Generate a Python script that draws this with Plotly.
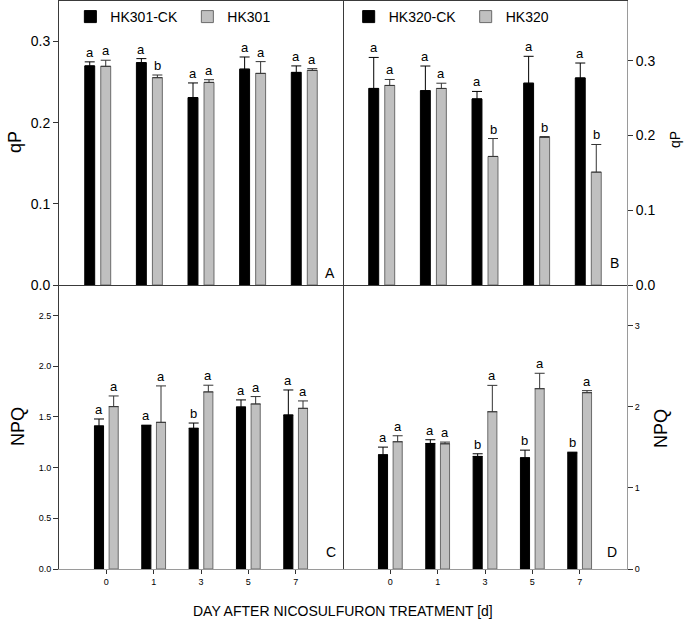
import plotly.graph_objects as go

days = ["0", "1", "3", "5", "7"]

# Panel A: qP, HK301
qpA_ck = [0.270, 0.274, 0.231, 0.266, 0.262]
qpA_ck_err = [0.005, 0.005, 0.018, 0.015, 0.008]
qpA_tr = [0.2695, 0.2555, 0.2497, 0.2608, 0.2645]
qpA_tr_err = [0.0075, 0.0033, 0.0033, 0.0145, 0.0021]
lettA_ck = ["a", "a", "a", "a", "a"]
lettA_tr = ["a", "b", "a", "a", "a"]

# Panel B: qP, HK320
qpB_ck = [0.263, 0.260, 0.249, 0.270, 0.277]
qpB_ck_err = [0.0415, 0.033, 0.010, 0.036, 0.020]
qpB_tr = [0.267, 0.263, 0.172, 0.1976, 0.151]
qpB_tr_err = [0.008, 0.007, 0.024, 0.001, 0.037]
lettB_ck = ["a", "a", "a", "a", "a"]
lettB_tr = ["a", "a", "b", "b", "b"]

# Panel C: NPQ, HK301
npC_ck = [1.41, 1.413, 1.387, 1.597, 1.518]
npC_ck_err = [0.069, 0.005, 0.052, 0.070, 0.247]
npC_tr = [1.601, 1.446, 1.746, 1.627, 1.584]
npC_tr_err = [0.105, 0.359, 0.066, 0.073, 0.073]
lettC_ck = ["a", "a", "b", "a", "a"]
lettC_tr = ["a", "a", "a", "a", "a"]

# Panel D: NPQ, HK320
npD_ck = [1.407, 1.547, 1.387, 1.370, 1.432]
npD_ck_err = [0.095, 0.046, 0.033, 0.095, 0.008]
npD_tr = [1.568, 1.543, 1.938, 2.222, 2.173]
npD_tr_err = [0.074, 0.021, 0.325, 0.190, 0.025]
lettD_ck = ["a", "a", "b", "b", "b"]
lettD_tr = ["a", "a", "a", "a", "a"]

names_A = ["HK301-CK", "HK301"]
names_B = ["HK320-CK", "HK320"]

FONT = "Arial, Liberation Sans, sans-serif"
BLACK = "#000000"
GRAY = "#c0c0c0"
GRAY_EDGE = "#6a6a6a"
DARK_LINE = "#3a3a3a"
LIGHT_LINE = "#9a9a9a"

W, H = 685, 622
ML, MR, MT, MB = 59, 58, 1, 53
BARGAP, BARGROUPGAP = 0.38, 0.38

fig = go.Figure()

panels = [
    ("x", "y", qpA_ck, qpA_ck_err, qpA_tr, qpA_tr_err, lettA_ck, lettA_tr, names_A, "legend", True),
    ("x2", "y2", qpB_ck, qpB_ck_err, qpB_tr, qpB_tr_err, lettB_ck, lettB_tr, names_B, "legend2", True),
    ("x3", "y3", npC_ck, npC_ck_err, npC_tr, npC_tr_err, lettC_ck, lettC_tr, names_A, "legend", False),
    ("x4", "y4", npD_ck, npD_ck_err, npD_tr, npD_tr_err, lettD_ck, lettD_tr, names_B, "legend2", False),
]

top_range = [-0.75, 4.75]
bot_range = [-1.0, 5.0]
plot_w = W - ML - MR
half_w = plot_w / 2.0

annotations = []
for xa, ya, ck, ckerr, tr, trerr, lck, ltr, names, leg, top in panels:
    xr = top_range if top else bot_range
    px_per_unit = half_w / (xr[1] - xr[0])
    slot = (1 - BARGAP) / 2.0
    shift = slot / 2.0 * px_per_unit
    for j, (vals, errs, lets, color, edge, ecol) in enumerate([
        (ck, ckerr, lck, BLACK, BLACK, BLACK),
        (tr, trerr, ltr, GRAY, GRAY_EDGE, "#333333"),
    ]):
        fig.add_trace(go.Bar(
            x=days, y=vals, name=names[j],
            xaxis=xa, yaxis=ya,
            offsetgroup=str(j),
            marker=dict(color=color, line=dict(color=edge, width=1)),
            error_y=dict(type="data", array=errs, arrayminus=[0] * len(errs),
                         symmetric=False, color=ecol, thickness=1, width=5),
            showlegend=top, legend=leg,
        ))
        for i, (v, e, t) in enumerate(zip(vals, errs, lets)):
            annotations.append(dict(
                x=i, y=v + e, xref=xa, yref=ya, text=t, showarrow=False,
                xanchor="center", yanchor="bottom",
                xshift=(-shift if j == 0 else shift), yshift=0,
                font=dict(family=FONT, size=13, color="#000"),
            ))

# panel letters
for xa, ya, lab, xs, ys in [("x", "y", "A", -6, 2), ("x2", "y2", "B", -6, 12),
                            ("x3", "y3", "C", -5, 7), ("x4", "y4", "D", -8, 7)]:
    annotations.append(dict(
        x=1, y=0, xref=xa + " domain", yref=ya + " domain", text=lab,
        showarrow=False, xanchor="right", yanchor="bottom", xshift=xs, yshift=ys,
        font=dict(family=FONT, size=14, color="#000"),
    ))

# axis titles
annotations += [
    dict(x=0, y=0.75, xref="paper", yref="paper", text="qP", textangle=-90,
         xanchor="center", yanchor="middle",
         showarrow=False, xshift=-44, yshift=1, font=dict(family=FONT, size=18, color="#000")),
    dict(x=0, y=0.25, xref="paper", yref="paper", text="NPQ", textangle=-90,
         xanchor="center", yanchor="middle",
         showarrow=False, xshift=-41, font=dict(family=FONT, size=18, color="#000")),
    dict(x=1, y=0.75, xref="paper", yref="paper", text="qP", textangle=-90,
         xanchor="center", yanchor="middle",
         showarrow=False, xshift=48, yshift=3, font=dict(family=FONT, size=14, color="#000")),
    dict(x=1, y=0.25, xref="paper", yref="paper", text="NPQ", textangle=-90,
         xanchor="center", yanchor="middle",
         showarrow=False, xshift=34, yshift=-2, font=dict(family=FONT, size=18, color="#000")),
    dict(x=0.5, y=0, xref="paper", yref="paper", text="DAY AFTER NICOSULFURON TREATMENT [d]",
         xanchor="center", showarrow=False, yanchor="middle", yshift=-42,
         font=dict(family=FONT, size=14, color="#000")),
]

common_x = dict(type="category", showgrid=False, zeroline=False, showline=True, mirror=True)
common_y = dict(showgrid=False, zeroline=False, showline=True, ticks="outside",
                tickcolor="#333", ticklen=5)

fig.update_layout(
    width=W, height=H,
    margin=dict(l=ML, r=MR, t=MT, b=MB),
    paper_bgcolor="white", plot_bgcolor="white",
    barmode="group", bargap=BARGAP, bargroupgap=BARGROUPGAP,
    font=dict(family=FONT, color="#000"),
    xaxis=dict(common_x, domain=[0, 0.5], anchor="y", range=top_range,
               showticklabels=False, ticks="", linecolor=DARK_LINE),
    yaxis=dict(common_y, domain=[0.5, 1], anchor="x", range=[0, 0.35], dtick=0.1,
               tickformat=".1f", tickfont=dict(size=14), linecolor=DARK_LINE, mirror=True),
    xaxis2=dict(common_x, domain=[0.5, 1], anchor="y2", range=top_range,
                showticklabels=False, ticks="", linecolor=DARK_LINE),
    yaxis2=dict(common_y, domain=[0.5, 1], anchor="x2", side="right", range=[0, 0.38],
                dtick=0.1, tickformat=".1f", tickfont=dict(size=14), linecolor=LIGHT_LINE,
                mirror=False),
    xaxis3=dict(common_x, domain=[0, 0.5], anchor="y3", range=bot_range,
                ticks="outside", ticklen=4, tickcolor="#333", tickfont=dict(size=9),
                linecolor=LIGHT_LINE, mirror=False),
    yaxis3=dict(common_y, domain=[0, 0.5], anchor="x3", range=[0, 2.8], dtick=0.5,
                tickformat=".1f", tickfont=dict(size=9), linecolor=DARK_LINE, mirror=True),
    xaxis4=dict(common_x, domain=[0.5, 1], anchor="y4", range=bot_range,
                ticks="outside", ticklen=4, tickcolor="#333", tickfont=dict(size=9),
                linecolor=LIGHT_LINE, mirror=False),
    yaxis4=dict(common_y, domain=[0, 0.5], anchor="x4", side="right", range=[0, 3.5],
                dtick=1, tickfont=dict(size=9), linecolor=LIGHT_LINE, mirror=False),
    legend=dict(orientation="h", x=0.02, y=1, xanchor="left", yanchor="top",
                font=dict(family=FONT, size=14), bgcolor="rgba(0,0,0,0)",
                itemwidth=30, entrywidth=72, tracegroupgap=0),
    legend2=dict(orientation="h", x=0.51, y=1, xanchor="left", yanchor="top",
                 font=dict(family=FONT, size=14), bgcolor="rgba(0,0,0,0)",
                 itemwidth=30, entrywidth=72, tracegroupgap=0),
    annotations=annotations,
    showlegend=True,
)

fig.write_html("out.html", config={"displayModeBar": False},
               post_script="document.body.style.margin='0';")
